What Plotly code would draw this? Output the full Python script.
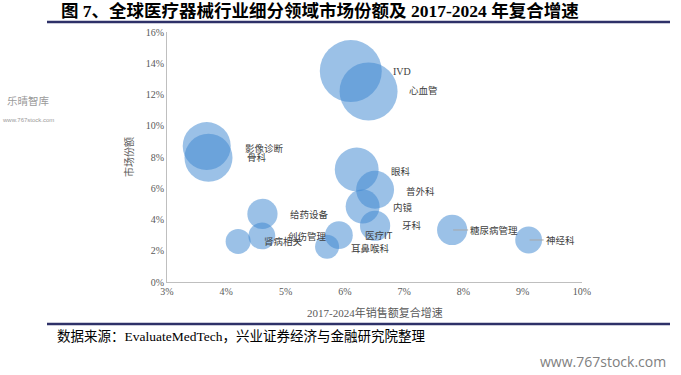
import plotly.graph_objects as go

# ---------------- data ----------------
segments = ["IVD", "心血管", "影像诊断", "骨科", "眼科", "普外科", "内镜", "给药设备",
            "创伤管理", "牙科", "医疗IT", "耳鼻喉科", "肾病相关", "糖尿病管理", "神经科"]
cagr = [0.061, 0.064, 0.0367, 0.037, 0.062, 0.0651, 0.063, 0.0461,
        0.046, 0.0651, 0.059, 0.057, 0.042, 0.0781, 0.091]
share = [0.135, 0.122, 0.087, 0.0795, 0.072, 0.059, 0.0483, 0.0436,
         0.0295, 0.036, 0.030, 0.0226, 0.026, 0.0333, 0.0269]
size_bn = [80, 70, 48, 48, 40, 30, 24, 19, 15, 19, 16, 12, 13, 19, 15]
x_ticks = [0.03, 0.04, 0.05, 0.06, 0.07, 0.08, 0.09, 0.10]
y_ticks = [0, 0.02, 0.04, 0.06, 0.08, 0.10, 0.12, 0.14, 0.16]

# ---------------- style ----------------
label_shift = {"IVD": (40, 0), "心血管": (38, 1), "影像诊断": (36, -2), "骨科": (36, 1),
               "眼科": (32, -1), "普外科": (29, -1), "内镜": (28, 0), "给药设备": (26, 0),
               "创伤管理": (24, 0), "牙科": (25, 1), "医疗IT": (24, 0), "耳鼻喉科": (22, -1),
               "肾病相关": (24, 0)}
leader = {"糖尿病管理": 16, "神经科": 15}

SERIF = "Liberation Serif, Noto Sans CJK SC, serif"
CJK = "Noto Sans CJK SC, sans-serif"
L, R, T, B = 167, 99, 32, 93
W, H = 681, 375
PW, PH = W - L - R, H - T - B
MAX_DIAM = 62


def px(x):
    return (x - L) / PW


def py(y):
    return (H - B - y) / PH


fig = go.Figure()
fig.add_trace(go.Scatter(
    x=cagr, y=share, mode="markers",
    marker=dict(size=size_bn, sizemode="area", sizeref=2 * max(size_bn) / MAX_DIAM ** 2,
                color="rgba(62,136,208,0.74)", line=dict(width=0)),
    hoverinfo="skip", showlegend=False))

annotations = []
for name, xv, yv in zip(segments, cagr, share):
    if name in leader:
        annotations.append(dict(x=xv, y=yv, xref="x", yref="y", text=name,
                                showarrow=True, arrowhead=0, arrowwidth=1,
                                arrowcolor="#A6A6A6", ax=leader[name], ay=0,
                                xanchor="left", yanchor="middle", standoff=1,
                                font=dict(family=CJK, size=9.5, color="#404040")))
    else:
        dx, dy = label_shift[name]
        annotations.append(dict(x=xv, y=yv, xref="x", yref="y", text=name,
                                showarrow=False, xanchor="left", yanchor="middle",
                                xshift=dx, yshift=dy,
                                font=dict(family=SERIF if name == "IVD" else CJK,
                                          size=10 if name == "IVD" else 9.5,
                                          color="#404040")))

# title
annotations.append(dict(x=px(59), y=py(11), xref="paper", yref="paper",
                        xanchor="left", yanchor="middle", showarrow=False,
                        text="<b>图 7、全球医疗器械行业细分领域市场份额及 2017-2024 年复合增速</b>",
                        font=dict(family="Liberation Serif, Noto Sans CJK SC", size=17.5, color="#000000")))
# source
annotations.append(dict(x=px(55), y=py(336), xref="paper", yref="paper",
                        xanchor="left", yanchor="middle", showarrow=False,
                        text="数据来源：EvaluateMedTech，兴业证券经济与金融研究院整理",
                        font=dict(family="Liberation Serif, Noto Sans CJK SC", size=13.5, color="#000000")))
# watermarks
annotations.append(dict(x=px(668), y=py(361), xref="paper", yref="paper",
                        xanchor="right", yanchor="middle", showarrow=False,
                        text="www.767stock.com",
                        font=dict(family="Open Sans, sans-serif", size=14, color="#808080")))
annotations.append(dict(x=px(28), y=py(100), xref="paper", yref="paper",
                        xanchor="center", yanchor="middle", showarrow=False,
                        text="乐晴智库",
                        font=dict(family=CJK, size=10.5, color="#9a9a9a")))
annotations.append(dict(x=px(28), y=py(120), xref="paper", yref="paper",
                        xanchor="center", yanchor="middle", showarrow=False,
                        text="www.767stock.com",
                        font=dict(family="Liberation Sans Narrow, Liberation Sans", size=6, color="#9a9a9a")))
# axis titles
annotations.append(dict(x=px(128), y=0.5, xref="paper", yref="paper",
                        xanchor="center", yanchor="middle", showarrow=False, textangle=-90,
                        text="市场份额", font=dict(family=CJK, size=10, color="#595959")))
annotations.append(dict(x=0.5, y=py(312), xref="paper", yref="paper",
                        xanchor="center", yanchor="middle", showarrow=False,
                        text="2017-2024年销售额复合增速",
                        font=dict(family=SERIF, size=11, color="#595959")))

shapes = [
    dict(type="line", xref="paper", yref="paper", x0=px(47), x1=px(670), y0=py(22), y1=py(22),
         line=dict(color="#2E3168", width=2.5)),
    dict(type="line", xref="paper", yref="paper", x0=px(47), x1=px(670), y0=py(324), y1=py(324),
         line=dict(color="#2E3168", width=2.5)),
]

fig.update_layout(
    width=W, height=H,
    margin=dict(l=L, r=R, t=T, b=B),
    paper_bgcolor="white", plot_bgcolor="white",
    annotations=annotations, shapes=shapes,
    xaxis=dict(range=[0.03, 0.10], tickvals=x_ticks, tickformat=".0%",
               showgrid=False, zeroline=False, showline=True, linecolor="#BFBFBF",
               linewidth=1, ticks="", tickfont=dict(family=SERIF, size=10, color="#595959")),
    yaxis=dict(range=[0, 0.16], tickvals=y_ticks, tickformat=".0%",
               showgrid=False, zeroline=False, showline=True, linecolor="#BFBFBF",
               linewidth=1, ticks="", ticklen=0,
               tickfont=dict(family=SERIF, size=10, color="#595959")),
)

fig.write_html("out.html", config={"displayModeBar": False},
               post_script="document.body.style.margin='0';document.body.style.overflow='hidden';")
